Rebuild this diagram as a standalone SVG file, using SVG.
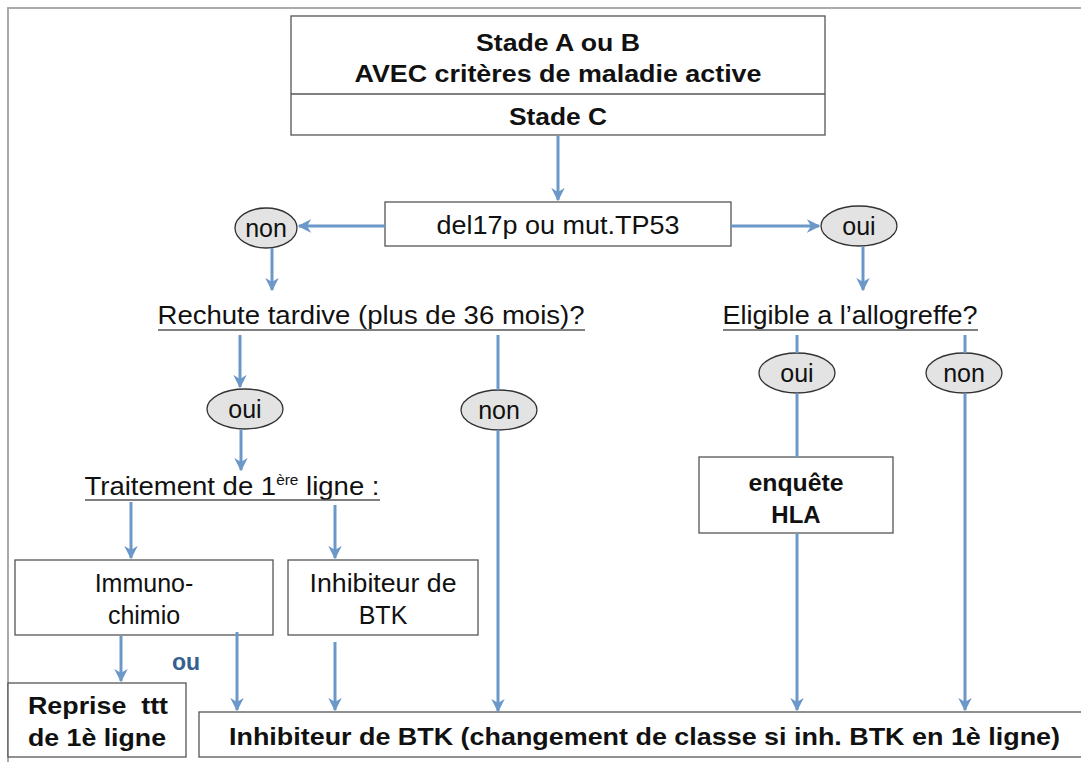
<svg xmlns="http://www.w3.org/2000/svg" width="1081" height="762" viewBox="0 0 1081 762">
<defs>
<marker id="ah" viewBox="0 0 10 10" refX="9" refY="5" markerWidth="4.5" markerHeight="4.5" orient="auto" markerUnits="strokeWidth">
<path d="M0,0 L10,5 L0,10 L3,5 Z" fill="#6b98c8"/>
</marker>
<style>
.box{fill:#fff;stroke:#555;stroke-width:1.3}
.ell{fill:#e3e3e3;stroke:#333;stroke-width:1.3}
.c{fill:none;stroke:#6b98c8;stroke-width:3}
.a{marker-end:url(#ah)}
.ul{stroke:#555;stroke-width:1.5}
.t{font-family:"Liberation Sans",Arial,sans-serif;fill:#111;text-anchor:middle}
.r{font-size:25px}
.b{font-size:24px;font-weight:bold}
</style>
</defs>
<rect width="1081" height="762" fill="#fff"/>
<path d="M8,762 V8 H1081" fill="none" stroke="#aaa" stroke-width="2"/>

<g id="stade">
<rect class="box" x="291" y="16" width="534" height="119"/>
<line x1="291" y1="94" x2="825" y2="94" stroke="#555" stroke-width="1.3"/>
<text class="t b" x="558" y="51" textLength="164" lengthAdjust="spacingAndGlyphs">Stade A ou B</text>
<text class="t b" x="558" y="82" textLength="407" lengthAdjust="spacingAndGlyphs">AVEC critères de maladie active</text>
<text class="t b" x="558" y="125" textLength="98" lengthAdjust="spacingAndGlyphs">Stade C</text>
</g>
<g id="del17p">
<rect class="box" x="385" y="202" width="346" height="44"/>
<text class="t r" x="558" y="234" textLength="243" lengthAdjust="spacingAndGlyphs">del17p ou mut.TP53</text>
</g>
<g id="non1">
<ellipse class="ell" cx="266" cy="228" rx="31" ry="20"/>
<text class="t r" x="266" y="237">non</text>
</g>
<g id="oui1">
<ellipse class="ell" cx="859" cy="226" rx="38" ry="20"/>
<text class="t r" x="859" y="235">oui</text>
</g>
<g id="rechute">
<text class="t r" x="371" y="324" textLength="427" lengthAdjust="spacingAndGlyphs">Rechute tardive (plus de 36 mois)?</text>
<line class="ul" x1="158" y1="330" x2="585" y2="330"/>
</g>
<g id="eligible">
<text class="t r" x="850" y="324" textLength="255" lengthAdjust="spacingAndGlyphs">Eligible a l’allogreffe?</text>
<line class="ul" x1="723" y1="330" x2="978" y2="330"/>
</g>
<g id="oui2">
<ellipse class="ell" cx="245" cy="409" rx="38" ry="20"/>
<text class="t r" x="245" y="418">oui</text>
</g>
<g id="non2">
<ellipse class="ell" cx="499" cy="410" rx="38" ry="20"/>
<text class="t r" x="499" y="419">non</text>
</g>
<g id="oui3">
<ellipse class="ell" cx="797" cy="373" rx="38" ry="20"/>
<text class="t r" x="797" y="382">oui</text>
</g>
<g id="non3">
<ellipse class="ell" cx="964" cy="373" rx="38" ry="20"/>
<text class="t r" x="964" y="382">non</text>
</g>
<g id="traitement">
<text class="t r" x="232" y="495" textLength="295" lengthAdjust="spacingAndGlyphs">Traitement de 1<tspan font-size="14" dy="-10">ère</tspan><tspan dy="10"> ligne :</tspan></text>
<line class="ul" x1="85" y1="500" x2="380" y2="500"/>
</g>
<g id="immuno">
<rect class="box" x="15" y="560" width="258" height="75"/>
<text class="t r" x="144" y="592">Immuno-</text>
<text class="t r" x="144" y="624">chimio</text>
</g>
<g id="inhib1">
<rect class="box" x="288" y="560" width="190" height="75"/>
<text class="t r" x="383" y="592" textLength="147" lengthAdjust="spacingAndGlyphs">Inhibiteur de</text>
<text class="t r" x="383" y="624">BTK</text>
</g>
<g id="hla">
<rect class="box" x="699" y="457" width="194" height="76"/>
<text class="t b" x="796" y="491" textLength="95" lengthAdjust="spacingAndGlyphs">enquête</text>
<text class="t b" x="796" y="523">HLA</text>
</g>
<g id="reprise">
<rect class="box" x="8" y="683" width="178" height="74"/>
<text class="t b" x="98" y="714" xml:space="preserve" textLength="140" lengthAdjust="spacingAndGlyphs">Reprise  ttt</text>
<text class="t b" x="97" y="746" textLength="138" lengthAdjust="spacingAndGlyphs">de 1è ligne</text>
</g>
<g id="ou">
<text class="t" x="186" y="670" font-size="23" font-weight="bold" style="fill:#34608f">ou</text>
</g>
<g id="inhib2">
<rect class="box" x="199" y="712" width="890" height="45"/>
<text class="t b" x="644.5" y="745" textLength="831" lengthAdjust="spacingAndGlyphs">Inhibiteur de BTK (changement de classe si inh. BTK en 1è ligne)</text>
</g>

<g id="connectors">
<line class="c a" x1="558" y1="136" x2="558" y2="200"/>
<line class="c a" x1="385" y1="226" x2="299" y2="226"/>
<line class="c a" x1="731" y1="226" x2="819" y2="226"/>
<line class="c a" x1="272" y1="248" x2="272" y2="290"/>
<line class="c a" x1="863" y1="246" x2="863" y2="290"/>
<line class="c a" x1="240" y1="335" x2="240" y2="387"/>
<line class="c" x1="498" y1="335" x2="498" y2="390"/>
<line class="c a" x1="498" y1="430" x2="498" y2="711"/>
<line class="c a" x1="241" y1="429" x2="241" y2="470"/>
<line class="c a" x1="131" y1="502" x2="131" y2="558"/>
<line class="c a" x1="335" y1="505" x2="335" y2="558"/>
<line class="c a" x1="121" y1="636" x2="121" y2="681"/>
<line class="c a" x1="237" y1="632" x2="237" y2="710"/>
<line class="c a" x1="335" y1="642" x2="335" y2="710"/>
<line class="c" x1="797" y1="335" x2="797" y2="353"/>
<line class="c" x1="797" y1="393" x2="797" y2="457"/>
<line class="c a" x1="797" y1="533" x2="797" y2="710"/>
<line class="c" x1="965" y1="335" x2="965" y2="353"/>
<line class="c a" x1="965" y1="393" x2="965" y2="710"/>
</g>
</svg>
